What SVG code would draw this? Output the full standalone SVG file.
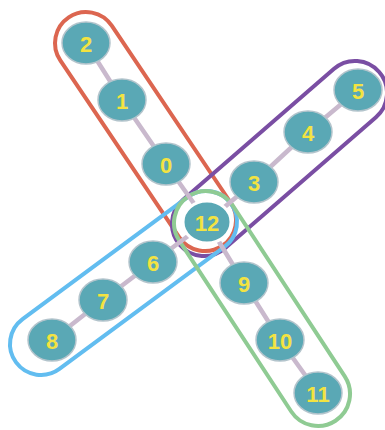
<svg xmlns="http://www.w3.org/2000/svg" width="385" height="430" viewBox="0 0 385 430">
<style>
.loop{fill:none;stroke-width:4}
.edge{stroke:#c9b9cd;stroke-width:4.5;stroke-linecap:round}
.node ellipse{fill:#5aa8b5;stroke:#b3c4cc;stroke-width:1.5}
.node text{font-family:"Liberation Sans",Arial,sans-serif;font-weight:bold;font-size:22px;fill:#f3e341;text-anchor:middle;dominant-baseline:central}
</style>
<rect width="385" height="430" fill="#ffffff"/>
<g id="loops">
<rect id="loop-red" class="loop" stroke="#dc6650" x="-137.6" y="-31" width="275.3" height="62" rx="31" transform="translate(145.5 131.5) rotate(56.09)"/>
<rect id="loop-purple" class="loop" stroke="#7a4ea3" x="-131.95" y="-32" width="263.9" height="64" rx="32" transform="translate(279.5 158.5) rotate(-40.94)"/>
<rect id="loop-blue" class="loop" stroke="#62bdf0" x="-133.6" y="-31" width="267.2" height="62" rx="31" transform="translate(123.5 283) rotate(-36.48)"/>
<rect id="loop-green" class="loop" stroke="#8fcb93" x="-134.2" y="-32" width="268.4" height="64" rx="32" transform="translate(262 308.5) rotate(56.78)"/>
</g>
<g id="connectors">
<line class="edge" x1="86" y1="43" x2="122" y2="100"/>
<line class="edge" x1="122" y1="100" x2="166" y2="164"/>
<line class="edge" x1="166" y1="164" x2="207" y2="222"/>
<line class="edge" x1="207" y1="222" x2="254" y2="182"/>
<line class="edge" x1="254" y1="182" x2="308" y2="132"/>
<line class="edge" x1="308" y1="132" x2="358" y2="90"/>
<line class="edge" x1="207" y1="222" x2="153" y2="262"/>
<line class="edge" x1="153" y1="262" x2="103" y2="300"/>
<line class="edge" x1="103" y1="300" x2="52" y2="340"/>
<line class="edge" x1="207" y1="222" x2="244" y2="283"/>
<line class="edge" x1="244" y1="283" x2="280" y2="340"/>
<line class="edge" x1="280" y1="340" x2="318" y2="393"/>
</g>
<g id="node-2" class="node"><ellipse cx="86" cy="43" rx="24" ry="21"/><text x="86" y="44">2</text></g>
<g id="node-1" class="node"><ellipse cx="122" cy="100" rx="24" ry="21"/><text x="122" y="101">1</text></g>
<g id="node-0" class="node"><ellipse cx="166" cy="164" rx="24" ry="21"/><text x="166" y="165">0</text></g>
<g id="node-12" class="node"><ellipse cx="207" cy="222" rx="24" ry="21" style="stroke:#ffffff;stroke-width:3"/><text x="207" y="223">12</text></g>
<g id="node-3" class="node"><ellipse cx="254" cy="182" rx="24" ry="21"/><text x="254" y="183">3</text></g>
<g id="node-4" class="node"><ellipse cx="308" cy="132" rx="24" ry="21"/><text x="308" y="133">4</text></g>
<g id="node-5" class="node"><ellipse cx="358" cy="90" rx="24" ry="21"/><text x="358" y="91">5</text></g>
<g id="node-6" class="node"><ellipse cx="153" cy="262" rx="24" ry="21"/><text x="153" y="263">6</text></g>
<g id="node-7" class="node"><ellipse cx="103" cy="300" rx="24" ry="21"/><text x="103" y="301">7</text></g>
<g id="node-8" class="node"><ellipse cx="52" cy="340" rx="24" ry="21"/><text x="52" y="341">8</text></g>
<g id="node-9" class="node"><ellipse cx="244" cy="283" rx="24" ry="21"/><text x="244" y="284">9</text></g>
<g id="node-10" class="node"><ellipse cx="280" cy="340" rx="24" ry="21"/><text x="280" y="341">10</text></g>
<g id="node-11" class="node"><ellipse cx="318" cy="393" rx="24" ry="21"/><text x="318" y="394">11</text></g>
</svg>
